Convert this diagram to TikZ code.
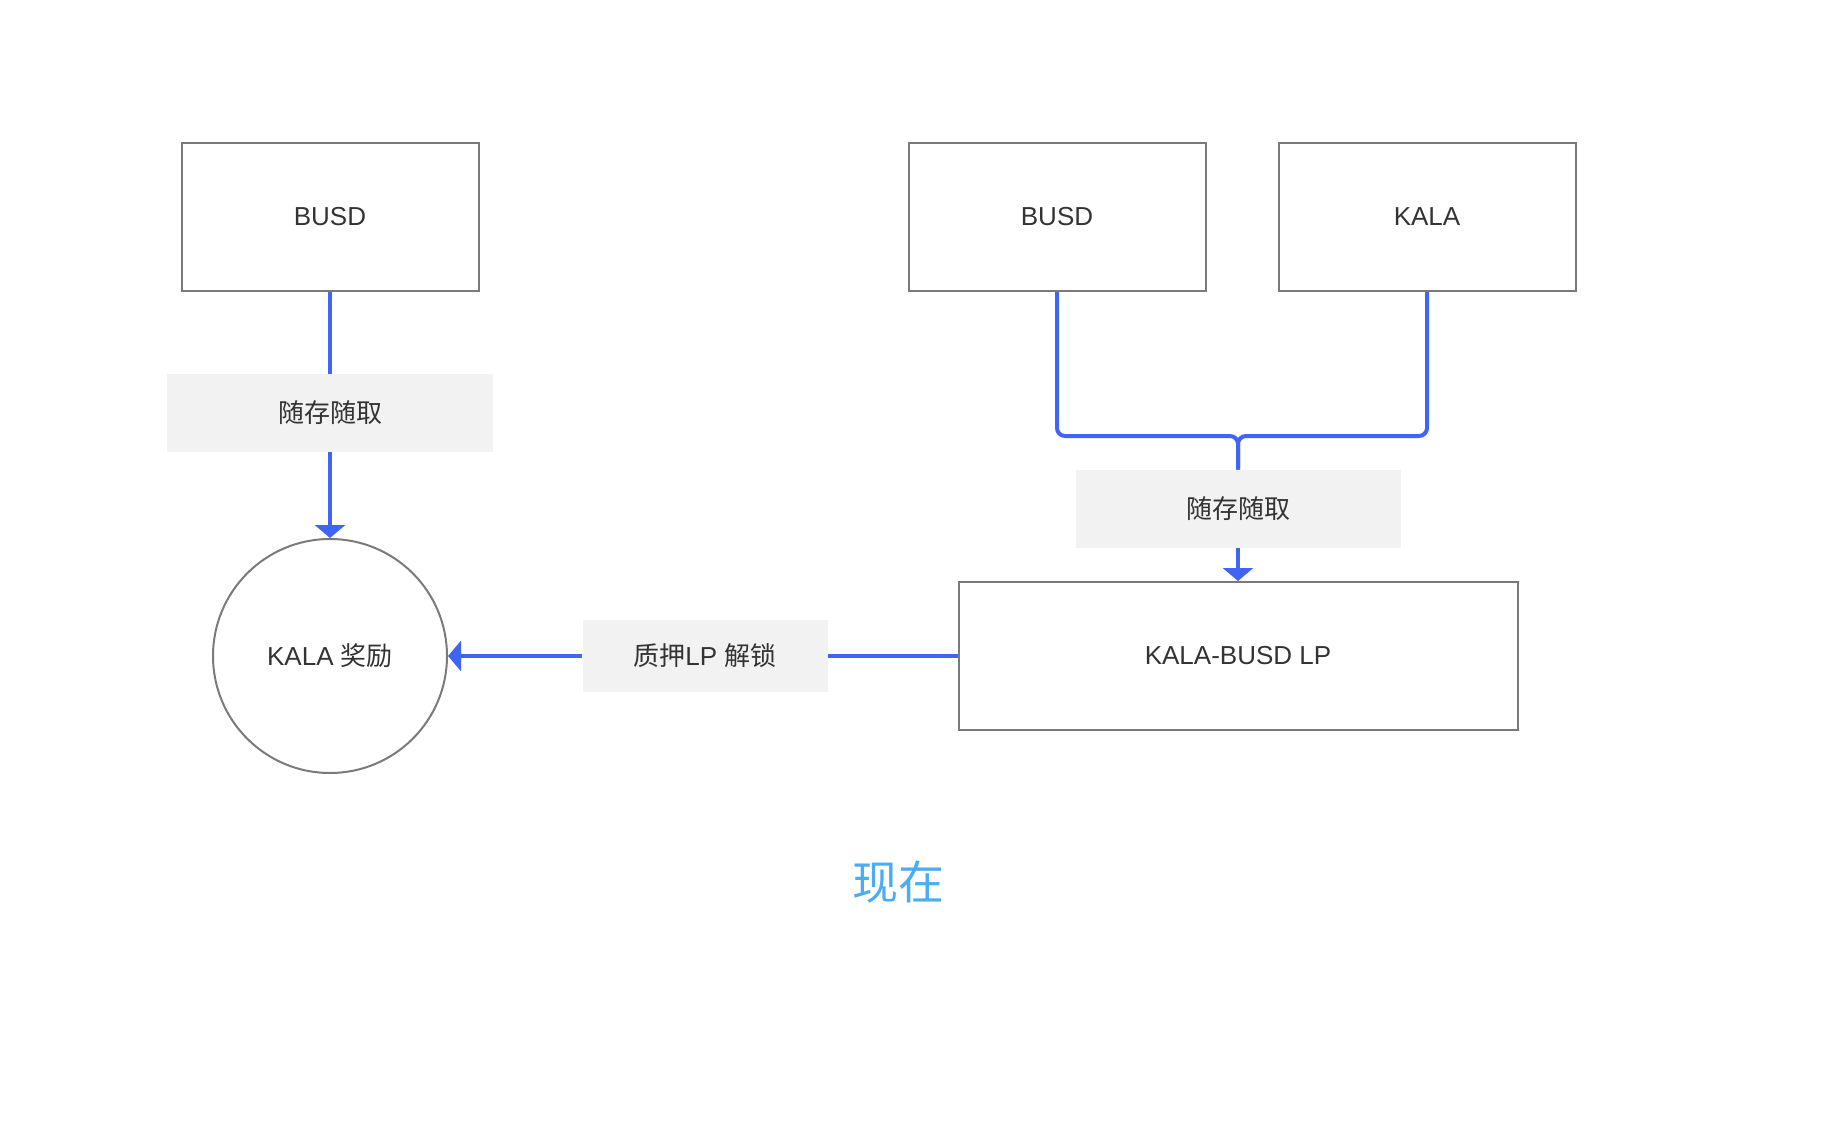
\documentclass[tikz,border=0pt]{standalone}
\usepackage{fontspec}
\setmainfont{Liberation Sans}
\newfontfamily\cjk{Noto Sans CJK SC}
\usetikzlibrary{arrows.meta}
\definecolor{flowblue}{HTML}{4064F4}
\definecolor{edgegray}{HTML}{7A7A7A}
\definecolor{tagfill}{HTML}{F2F2F2}
\definecolor{inkgray}{HTML}{333333}
\definecolor{nowblue}{HTML}{4BACF2}
\begin{document}
\begin{tikzpicture}[x=0.5pt,y=-0.5pt,
	coin/.style={draw=edgegray,line width=1pt,minimum width=148.5pt,minimum height=74pt,text=inkgray,font=\fontsize{13}{15}\selectfont},
	tag/.style={fill=tagfill,text=inkgray,inner sep=0pt,minimum height=39pt,font=\fontsize{13}{15}\selectfont},
	flow/.style={draw=flowblue,line width=2pt},
	tip/.style={-{Triangle[width=15pt,length=6.5pt]}}]
	\useasboundingbox (0,0) rectangle (1844,1124);
	% left: single deposit
	\node[coin] (busdL) at (330,217) {BUSD};
	\node[tag,minimum width=163pt] (tagL) at (330,413) {\cjk 随存随取};
	\node[circle,draw=edgegray,line width=1pt,minimum size=117pt,inner sep=0pt,text=inkgray,font=\fontsize{13}{15}\selectfont] (reward) at (330,656) {KALA {\cjk 奖励}};
	\draw[flow] (busdL) -- (tagL);
	\draw[flow,tip] (tagL) -- (reward);
	% right: LP pair
	\node[coin] (busdR) at (1057,217) {BUSD};
	\node[coin] (kala) at (1427,217) {KALA};
	\coordinate (join) at (1238,436);
	\node[tag,minimum width=162.5pt] (tagR) at (1238,509) {\cjk 随存随取};
	\node[coin,minimum width=279.5pt] (lp) at (1238,656) {KALA-BUSD LP};
	\draw[flow,rounded corners=4pt] (busdR.south) |- (join) -- (tagR.north);
	\draw[flow,rounded corners=4pt] (kala.south) |- (join) -- (tagR.north);
	\draw[flow,tip] (tagR) -- (lp);
	% stake
	\node[tag,minimum width=122.5pt,minimum height=36pt] (stake) at (705,656) {{\cjk 质押}LP {\cjk 解锁}};
	\draw[flow] (lp) -- (stake);
	\draw[flow,tip] (stake) -- (reward);
	\node[text=nowblue,font=\cjk\fontsize{23}{27}\selectfont] (now) at (898,882) {现在};
\end{tikzpicture}
\end{document}
